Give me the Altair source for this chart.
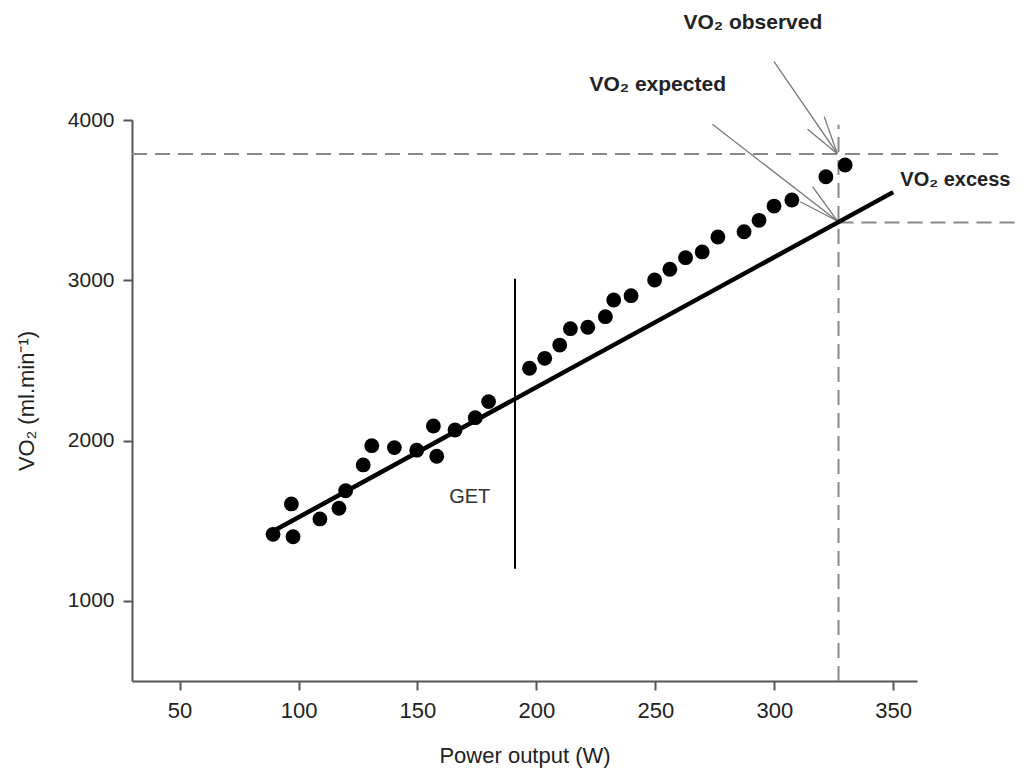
import altair as alt
import pandas as pd

# Observed VO2 points (Power output W, VO2 ml/min)
power = [89.3, 97.0, 97.7, 109.0, 117.0, 119.8, 127.2, 130.8, 140.3, 149.7, 156.7, 158.1,
         165.8, 174.3, 179.9, 197.1, 203.5, 209.8, 214.3, 221.6, 229.0, 232.5, 239.8,
         249.7, 256.1, 262.7, 269.7, 276.3, 287.3, 293.6, 299.9, 307.4, 321.7, 329.8]
vo2 = [1415, 1605, 1400, 1511, 1578, 1687, 1848, 1968, 1956, 1940, 2091, 1902,
       2066, 2143, 2243, 2451, 2513, 2596, 2698, 2707, 2773, 2877, 2904,
       3002, 3069, 3141, 3177, 3270, 3303, 3374, 3463, 3501, 3646, 3719]

# Regression line below GET (extrapolated)
reg_x = [90, 350]
reg_y = [1440, 3550]

# GET marker
get_x = [191, 191]
get_y = [1200, 3010]

# Dashed reference lines
dash_x = [30, 327, 327]
dash_x2 = [397, 404, 327]
dash_y = [3788, 3360, 500]
dash_y2 = [3788, 3360, 3970]

# Arrow strokes (observed arrow + head, expected arrow + head)
arr_x = [299.9, 321.0, 314.0, 274.0, 316.1, 310.9]
arr_y = [4364, 4021, 3942, 3973, 3584, 3490]
arr_x2 = [326.5, 326.5, 326.5, 326.5, 326.5, 326.5]
arr_y2 = [3790, 3790, 3790, 3370, 3370, 3370]

# Labels
lab_text = ["VO₂ observed", "VO₂ expected"]
lab_x = [291, 251]
lab_y = [4605, 4218]
excess_text = ["VO₂ excess"]
excess_x = [353.0]
excess_y = [3626]
get_text = ["GET"]
get_lx = [172]
get_ly = [1648]

FONT = "Liberation Sans"
xs = alt.Scale(domain=[30, 360], nice=False, zero=False)
ys = alt.Scale(domain=[500, 4000], nice=False, zero=False)

pts_df = pd.DataFrame({"x": power, "y": vo2})
reg_df = pd.DataFrame({"x": reg_x, "y": reg_y})
get_df = pd.DataFrame({"x": [get_x[0]], "y": [get_y[0]], "y2": [get_y[1]]})
dash_df = pd.DataFrame({"x": dash_x, "x2": dash_x2, "y": dash_y, "y2": dash_y2})
arr_df = pd.DataFrame({"x": arr_x, "x2": arr_x2, "y": arr_y, "y2": arr_y2})
lab_df = pd.DataFrame({"t": lab_text, "x": lab_x, "y": lab_y})
exc_df = pd.DataFrame({"t": excess_text, "x": excess_x, "y": excess_y})
gtx_df = pd.DataFrame({"t": get_text, "x": get_lx, "y": get_ly})

x_axis = alt.Axis(values=[50, 100, 150, 200, 250, 300, 350], title="Power output (W)",
                  format="d", grid=False, domainColor="#555", domainWidth=2, tickColor="#555",
                  tickWidth=2, tickSize=9, labelFontSize=22, labelColor="#222",
                  labelFont=FONT, labelPadding=10, titleFont=FONT, titleFontSize=22,
                  titleFontWeight="normal", titleColor="#222", titlePadding=24)
y_axis = alt.Axis(values=[1000, 2000, 3000, 4000], title="VO₂ (ml.min⁻¹)",
                  format="d", grid=False, domainColor="#555", domainWidth=2, tickColor="#555",
                  tickWidth=2, tickSize=9, labelFontSize=21, labelColor="#222",
                  labelFont=FONT, labelPadding=9, titleFont=FONT, titleFontSize=22,
                  titleFontWeight="normal", titleColor="#222", titlePadding=29)

points = alt.Chart(pts_df).mark_circle(color="black", size=220, opacity=1).encode(
    x=alt.X("x:Q", scale=xs, axis=x_axis),
    y=alt.Y("y:Q", scale=ys, axis=y_axis),
)
reg = alt.Chart(reg_df).mark_line(color="black", strokeWidth=4.5).encode(
    x=alt.X("x:Q", scale=xs), y=alt.Y("y:Q", scale=ys))
get_rule = alt.Chart(get_df).mark_rule(color="black", strokeWidth=2).encode(
    x=alt.X("x:Q", scale=xs), y=alt.Y("y:Q", scale=ys), y2="y2:Q")
dashes = alt.Chart(dash_df).mark_rule(color="#888", strokeWidth=2, strokeDash=[15, 8]).encode(
    x=alt.X("x:Q", scale=xs), x2="x2:Q", y=alt.Y("y:Q", scale=ys), y2="y2:Q")
arrows = alt.Chart(arr_df).mark_rule(color="#777", strokeWidth=1.3).encode(
    x=alt.X("x:Q", scale=xs), x2="x2:Q", y=alt.Y("y:Q", scale=ys), y2="y2:Q")
labels = alt.Chart(lab_df).mark_text(font=FONT, fontSize=21, fontWeight="bold",
                                     color="#222", align="center", baseline="middle").encode(
    x=alt.X("x:Q", scale=xs), y=alt.Y("y:Q", scale=ys), text="t:N")
excess = alt.Chart(exc_df).mark_text(font=FONT, fontSize=20, fontWeight="bold",
                                     color="#222", align="left", baseline="middle").encode(
    x=alt.X("x:Q", scale=xs), y=alt.Y("y:Q", scale=ys), text="t:N")
get_label = alt.Chart(gtx_df).mark_text(font=FONT, fontSize=20, color="#333",
                                        align="center", baseline="middle").encode(
    x=alt.X("x:Q", scale=xs), y=alt.Y("y:Q", scale=ys), text="t:N")

chart = alt.layer(dashes, arrows, get_rule, reg, points, labels, excess, get_label).properties(
    width=785, height=561,
    background="white",
    autosize=alt.AutoSizeParams(type="none"),
    padding={"left": 124, "top": 112, "right": 101, "bottom": 92},
).configure_view(strokeWidth=0, stroke="transparent")

chart.save("out.html", embed_options={"renderer": "svg", "actions": False})
